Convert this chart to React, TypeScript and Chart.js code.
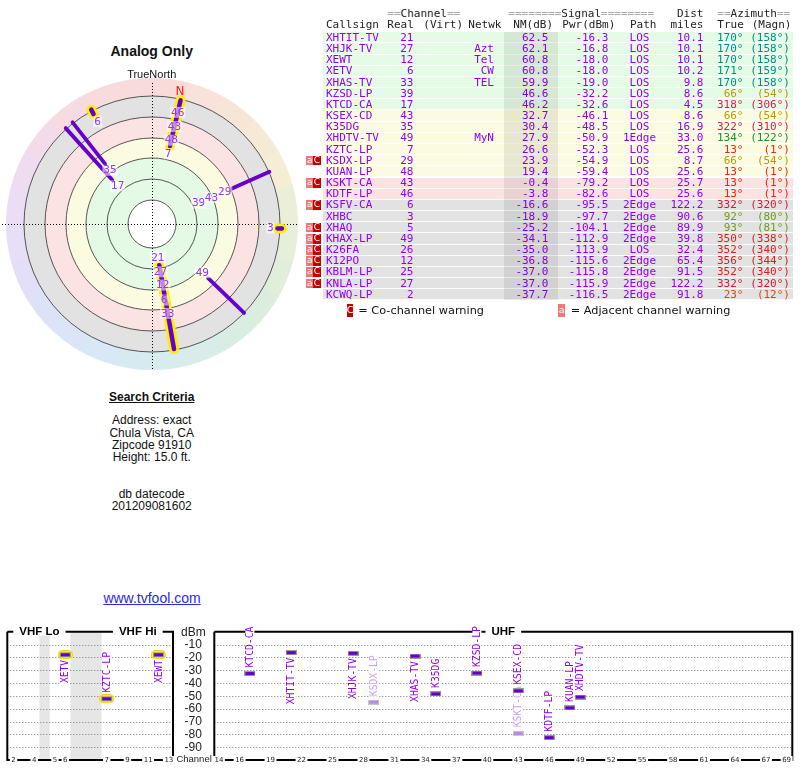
import React, { useEffect, useRef } from "react";
import { Chart, registerables } from "chart.js";

Chart.register(...registerables);

// ---------------- data ----------------
const callsigns = ["XHTIT-TV","XHJK-TV","XEWT","XETV","XHAS-TV","KZSD-LP","KTCD-CA","KSEX-CD","K35DG","XHDTV-TV","KZTC-LP","KSDX-LP","KUAN-LP","KSKT-CA","KDTF-LP","KSFV-CA","XHBC","XHAQ","KHAX-LP","K26FA","K12PO","KBLM-LP","KNLA-LP","KCWQ-LP"];
const channels = [21,27,12,6,33,39,17,43,35,49,7,29,48,43,46,6,3,5,49,26,12,25,27,2];
const networks = ["","Azt","Tel","CW","TEL","","","","","MyN","","","","","","","","","","","","","",""];
const nmDb = [62.5,62.1,60.8,60.8,59.9,46.6,46.2,32.7,30.4,27.9,26.6,23.9,19.4,-0.4,-3.8,-16.6,-18.9,-25.2,-34.1,-35.0,-36.8,-37.0,-37.0,-37.7];
const pwrDbm = [-16.3,-16.8,-18.0,-18.0,-19.0,-32.2,-32.6,-46.1,-48.5,-50.9,-52.3,-54.9,-59.4,-79.2,-82.6,-95.5,-97.7,-104.1,-112.9,-113.9,-115.6,-115.8,-115.9,-116.5];
const paths = ["LOS","LOS","LOS","LOS","LOS","LOS","LOS","LOS","LOS","1Edge","LOS","LOS","LOS","LOS","LOS","2Edge","2Edge","2Edge","2Edge","LOS","2Edge","2Edge","2Edge","2Edge"];
const distMiles = [10.1,10.1,10.1,10.2,9.8,8.6,4.5,8.6,16.9,33.0,25.6,8.7,25.6,25.7,25.6,122.2,90.6,89.9,39.8,32.4,65.4,91.5,122.2,91.8];
const azTrue = [170,170,170,171,170,66,318,66,322,134,13,66,13,13,13,332,92,93,350,352,356,352,332,23];
const azMagn = [158,158,158,159,158,54,306,54,310,122,1,54,1,1,1,320,80,81,338,340,344,340,320,12];
const coChannel = [false,false,false,false,false,false,false,false,false,false,false,true,false,true,false,true,false,true,true,true,true,true,true,false];

// polar plot: radial position of each plotted station (first 17 rows)
const polarR = [41.8,56.6,70,85,98.8,59,59.3,73,76.2,78,80,87.5,94,108,122.6,123.7,126.4];
// analog "tails" on the polar plot
const tailAz = [13,170,332,92,318,322,66,134];
const tailFrom = [80,41.8,124.5,125.5,59.3,76.2,87.5,78];
const tailTo = [127,127,129.5,130,129,129,128.5,128];
const tailVhf = [true,true,true,true,false,false,false,false];
const magDeclination = 12;

// spectrum ticks
const vhfTicks = [2,4,5,6,7,9,11,13];
const uhfTicks = [14,16,19,22,25,28,31,34,37,40,43,46,49,52,55,58,61,64,67,69];
const dbmTicks = [-10,-20,-30,-40,-50,-60,-70,-80,-90];

// ---------------- styling helpers ----------------
const PURPLE_TXT = "#9100ee";
const BAR = "#6600cc";
const MONO = '"DejaVu Sans Mono", monospace';
const SANS = '"Liberation Sans", Arial, sans-serif';
const DJ = '"DejaVu Sans", sans-serif';

const AZ_STOPS: [number, number[]][] = [
  [0,[210,30,30]],[13,[228,40,15]],[23,[215,75,20]],[66,[190,150,0]],[92,[110,160,20]],
  [134,[30,140,50]],[170,[0,140,140]],[205,[20,110,200]],[240,[60,60,210]],[280,[140,40,200]],
  [318,[205,30,90]],[332,[200,30,50]],[350,[210,35,35]],[360,[210,30,30]],
];
function azRgb(az: number): number[] {
  const a = ((az % 360) + 360) % 360;
  for (let i = 0; i < AZ_STOPS.length - 1; i++) {
    const [a0, c0] = AZ_STOPS[i];
    const [a1, c1] = AZ_STOPS[i + 1];
    if (a >= a0 && a <= a1) {
      const t = (a - a0) / (a1 - a0);
      return c0.map((v, k) => Math.round(v + (c1[k] - v) * t));
    }
  }
  return AZ_STOPS[0][1];
}
function azColor(az: number) { const c = azRgb(az); return `rgb(${c[0]},${c[1]},${c[2]})`; }
function azPastel(az: number) {
  const c = azRgb(az).map((v) => Math.round(v + (255 - v) * 0.84));
  return `rgb(${c[0]},${c[1]},${c[2]})`;
}
function zoneColor(nm: number) {
  if (nm > 40) return "#e6fbe6";
  if (nm > 10) return "#fbfbe2";
  if (nm > -10) return "#fbe3e3";
  return "#e2e2e2";
}
function toXY(az: number, r: number) {
  const a = (az * Math.PI) / 180;
  return { x: r * Math.sin(a), y: r * Math.cos(a) };
}
function vhfPos(ch: number) { return ch <= 4 ? ch - 2 : ch <= 6 ? ch - 1 : ch + 2; }

// ---------------- polar chart ----------------
const RING_R = [24, 45, 66, 86, 107, 128];
const polarPlugin = {
  id: "polarBg",
  beforeDatasetsDraw(chart: any) {
    const { ctx, scales } = chart;
    const cx = scales.x.getPixelForValue(0), cy = scales.y.getPixelForValue(0);
    const k = scales.x.getPixelForValue(1) - cx;
    const rad = Math.PI / 180;
    ctx.save();
    for (let a = 0; a < 360; a += 15) {
      ctx.beginPath();
      ctx.moveTo(cx, cy);
      ctx.arc(cx, cy, 146 * k, (a - 90 - 0.4) * rad, (a + 15 - 90 + 0.4) * rad);
      ctx.closePath();
      ctx.fillStyle = azPastel(a + 7.5);
      ctx.fill();
    }
    const zones: [number, string][] = [[128, "#e2e2e2"], [107, "#fbe3e3"], [86, "#fbfbe1"], [66, "#e4fae4"], [24, "#ffffff"]];
    zones.forEach(([r, c]) => {
      ctx.beginPath(); ctx.arc(cx, cy, r * k, 0, Math.PI * 2); ctx.fillStyle = c; ctx.fill();
    });
    ctx.strokeStyle = "#444"; ctx.lineWidth = 0.9;
    RING_R.forEach((r) => { ctx.beginPath(); ctx.arc(cx, cy, r * k, 0, Math.PI * 2); ctx.stroke(); });
    ctx.strokeStyle = "#000"; ctx.lineWidth = 1; ctx.setLineDash([1, 2]);
    ctx.beginPath(); ctx.moveTo(cx - 150 * k, cy + 0.5); ctx.lineTo(cx + 146 * k, cy + 0.5); ctx.stroke();
    ctx.beginPath(); ctx.moveTo(cx + 0.5, cy - 141 * k); ctx.lineTo(cx + 0.5, cy + 145 * k); ctx.stroke();
    ctx.restore();
  },
  afterDatasetsDraw(chart: any) {
    const { ctx, scales } = chart;
    ctx.save();
    ctx.font = `10.5px ${DJ}`;
    ctx.textAlign = "center"; ctx.textBaseline = "middle";
    polarR.forEach((r, i) => {
      const p = toXY(azTrue[i], r - 8);
      const px = scales.x.getPixelForValue(p.x), py = scales.y.getPixelForValue(p.y);
      const t = String(channels[i]);
      const w = ctx.measureText(t).width + 2;
      ctx.fillStyle = "rgba(255,255,255,0.55)";
      ctx.fillRect(px - w / 2, py - 5.5, w, 11);
      ctx.fillStyle = "#9933ee";
      ctx.fillText(t, px, py + 0.5);
    });
    const n = toXY(magDeclination, 135);
    ctx.font = `12px ${DJ}`;
    ctx.fillStyle = "#ff2020";
    ctx.fillText("N", scales.x.getPixelForValue(n.x), scales.y.getPixelForValue(n.y));
    ctx.restore();
  },
};

function PolarChart() {
  const ref = useRef<HTMLCanvasElement>(null);
  useEffect(() => {
    const datasets: any[] = [];
    tailAz.forEach((az, i) => {
      const d = [toXY(az, tailFrom[i]), toXY(az, tailTo[i])];
      datasets.push({ type: "line", data: d, showLine: true, borderColor: BAR, borderWidth: tailVhf[i] ? 4.5 : 3.8, borderCapStyle: "round", pointRadius: 0, order: 1 });
      if (tailVhf[i]) datasets.push({ type: "line", data: d, showLine: true, borderColor: "#ffee00", borderWidth: 10, borderCapStyle: "round", pointRadius: 0, order: 2 });
    });
    const chart = new Chart(ref.current as HTMLCanvasElement, {
      type: "scatter",
      data: { datasets },
      options: {
        animation: false, responsive: false, events: [],
        layout: { padding: 0 },
        plugins: { legend: { display: false }, tooltip: { enabled: false } },
        scales: {
          x: { type: "linear", min: -154, max: 154, display: false },
          y: { type: "linear", min: -154, max: 154, display: false },
        },
      },
      plugins: [polarPlugin],
    } as any);
    return () => chart.destroy();
  }, []);
  return <canvas ref={ref} width={308} height={308} style={{ position: "absolute", left: -2, top: 70, width: 308, height: 308 }} />;
}

// ---------------- spectrum charts ----------------
function makeMark(kind: "normal" | "faded" | "vhf") {
  const c = document.createElement("canvas");
  if (kind === "vhf") {
    c.width = 15; c.height = 9;
    const g = c.getContext("2d") as CanvasRenderingContext2D;
    g.fillStyle = "#f2d200";
    g.beginPath(); (g as any).roundRect(0, 0, 15, 9, 4.5); g.fill();
    g.fillStyle = "#ffff00";
    g.beginPath(); (g as any).roundRect(1, 1, 13, 7, 3.5); g.fill();
    g.fillStyle = "#9a9a9a"; g.fillRect(2, 2, 11, 5);
    g.fillStyle = BAR; g.fillRect(3, 3, 9, 3);
  } else {
    c.width = 11; c.height = 5;
    const g = c.getContext("2d") as CanvasRenderingContext2D;
    g.fillStyle = kind === "faded" ? "#c8c8c8" : "#9a9a9a"; g.fillRect(0, 0, 11, 5);
    g.fillStyle = kind === "faded" ? "#b68ae6" : BAR; g.fillRect(1, 1, 9, 3);
  }
  return c;
}

function makePanelPlugin(kind: "vhf" | "uhf", idx: number[]) {
  return {
    id: "panel_" + kind,
    beforeDatasetsDraw(chart: any) {
      const { ctx, chartArea: a, scales } = chart;
      const X = (v: number) => scales.x.getPixelForValue(v);
      const Y = (v: number) => scales.y.getPixelForValue(v);
      ctx.save();
      if (kind === "vhf") {
        ctx.fillStyle = "#e6e6e6";
        [[2.5, 3.5], [5.5, 8.5]].forEach(([p0, p1]) => ctx.fillRect(X(p0), a.top, X(p1) - X(p0), a.bottom - a.top));
      }
      // dotted grid
      ctx.strokeStyle = "#777"; ctx.lineWidth = 1; ctx.setLineDash([1, 2]);
      dbmTicks.forEach((v) => {
        const yy = Math.round(Y(v)) + 0.5;
        ctx.beginPath(); ctx.moveTo(a.left, yy); ctx.lineTo(a.right, yy); ctx.stroke();
      });
      ctx.setLineDash([]);
      // frame
      ctx.strokeStyle = "#000"; ctx.lineWidth = 2;
      ctx.beginPath();
      ctx.moveTo(a.left, a.top); ctx.lineTo(a.left, a.bottom); ctx.lineTo(a.right, a.bottom); ctx.lineTo(a.right, a.top); ctx.lineTo(a.left, a.top);
      ctx.stroke();
      // titles
      ctx.font = `bold 11.5px ${SANS}`; ctx.textAlign = "center"; ctx.textBaseline = "middle";
      const titles: [string, number][] = kind === "vhf" ? [["VHF Lo", X(2.5)], ["VHF Hi", X(12)]] : [["UHF", (a.left + a.right) / 2]];
      titles.forEach(([t, tx]) => {
        const w = ctx.measureText(t).width;
        ctx.fillStyle = "#fff"; ctx.fillRect(tx - w / 2 - 6, a.top - 4, w + 12, 8);
        ctx.fillStyle = "#000"; ctx.fillText(t, tx, a.top);
      });
      // channel ticks on bottom frame
      ctx.font = `7px ${DJ}`;
      const ticks = kind === "vhf" ? vhfTicks : uhfTicks;
      ticks.forEach((ch) => {
        const tx = X(kind === "vhf" ? vhfPos(ch) : ch);
        const t = String(ch);
        const w = ctx.measureText(t).width;
        ctx.fillStyle = "#fff"; ctx.fillRect(tx - w / 2 - 1.5, a.bottom - 4, w + 3, 8);
        ctx.fillStyle = "#222"; ctx.fillText(t, tx, a.bottom);
      });
      if (kind === "uhf") {
        ctx.font = `12px ${SANS}`; ctx.fillStyle = "#222";
        ctx.textAlign = "right";
        dbmTicks.forEach((v) => ctx.fillText(String(v), a.left - 12.5, Y(v) + 0.5));
        ctx.textAlign = "center";
        ctx.fillText("dBm", a.left - 21, a.top + 1);
        ctx.font = `9.5px ${SANS}`; ctx.textAlign = "right";
        ctx.fillText("Channel", a.left - 2.5, a.bottom - 0.5);
      }
      // station labels (rotated)
      ctx.font = `9.7px ${MONO}`; ctx.textBaseline = "middle";
      idx.forEach((i) => {
        const px = X(kind === "vhf" ? vhfPos(channels[i]) : channels[i]);
        const py = Y(pwrDbm[i]);
        const t = callsigns[i];
        const w = ctx.measureText(t).width;
        const above = pwrDbm[i] < -30;
        ctx.save();
        ctx.translate(px, py);
        ctx.rotate(-Math.PI / 2);
        ctx.fillStyle = "#fff";
        if (above) { ctx.fillRect(5.5, -4.5, w + 1, 9); } else { ctx.fillRect(-5 - w - 1, -4.5, w + 1, 9); }
        ctx.fillStyle = coChannel[i] ? "#c9a3f2" : PURPLE_TXT;
        ctx.textAlign = above ? "left" : "right";
        ctx.fillText(t, above ? 6 : -5, 0.5);
        ctx.restore();
      });
      ctx.restore();
    },
  };
}

function SpectrumChart({ kind }: { kind: "vhf" | "uhf" }) {
  const ref = useRef<HTMLCanvasElement>(null);
  const geo = kind === "vhf"
    ? { left: 0, width: 180, pad: { left: 7.3, right: 6.7, top: 31.7, bottom: 8 }, xmin: -0.6, xmax: 15.4 }
    : { left: 176, width: 624, pad: { left: 38.3, right: 7.7, top: 31.7, bottom: 8 }, xmin: 13.55, xmax: 69.55 };
  useEffect(() => {
    const shown = callsigns.map((_, i) => i).filter((i) => nmDb[i] > -10);
    const idx = shown.filter((i) => (kind === "vhf" ? channels[i] <= 13 : channels[i] >= 14));
    const pos = (i: number) => ({ x: kind === "vhf" ? vhfPos(channels[i]) : channels[i], y: pwrDbm[i] });
    const datasets: any[] = [];
    if (kind === "vhf") {
      datasets.push({ data: idx.map(pos), pointStyle: makeMark("vhf"), pointRadius: 6, clip: false });
    } else {
      datasets.push({ data: idx.filter((i) => !coChannel[i]).map(pos), pointStyle: makeMark("normal"), pointRadius: 5, clip: false });
      datasets.push({ data: idx.filter((i) => coChannel[i]).map(pos), pointStyle: makeMark("faded"), pointRadius: 5, clip: false });
    }
    const chart = new Chart(ref.current as HTMLCanvasElement, {
      type: "scatter",
      data: { datasets },
      options: {
        animation: false, responsive: false, events: [],
        layout: { padding: geo.pad },
        plugins: { legend: { display: false }, tooltip: { enabled: false } },
        scales: {
          x: { type: "linear", min: geo.xmin, max: geo.xmax, display: false },
          y: { type: "linear", min: -100, max: 0, display: false },
        },
      },
      plugins: [makePanelPlugin(kind, idx)],
    } as any);
    return () => chart.destroy();
  }, []);
  return <canvas ref={ref} width={geo.width} height={168} style={{ position: "absolute", left: geo.left, top: 600, width: geo.width, height: 168 }} />;
}

// ---------------- text helpers ----------------
function T({ x, y, children, align = "left", style }: any) {
  const w = 400;
  const left = align === "left" ? x : align === "right" ? x - w : x - w / 2;
  return (
    <div style={{ position: "absolute", left, top: y - 7, width: w, height: 14, lineHeight: "14px", textAlign: align, whiteSpace: "pre", ...style }}>
      {children}
    </div>
  );
}

const ROW_TOP = 32.3;
const ROW_H = 11.17;

function StationTable() {
  const mono = { fontFamily: MONO, fontSize: 11 };
  const hdr = { ...mono, color: "#222" };
  const eq = { color: "#aaa" };
  const cell = { ...mono, color: PURPLE_TXT };
  return (
    <>
      <T x={387.3} y={14} style={hdr}><span style={eq}>==</span>Channel<span style={eq}>==</span></T>
      <T x={508.3} y={14} style={hdr}><span style={eq}>========</span>Signal<span style={eq}>========</span></T>
      <T x={703.5} y={14} align="right" style={hdr}>Dist</T>
      <T x={717.3} y={14} style={hdr}><span style={eq}>==</span>Azimuth<span style={eq}>==</span></T>
      <T x={326} y={25} style={hdr}>Callsign</T>
      <T x={387.3} y={25} style={hdr}>Real</T>
      <T x={423.3} y={25} style={hdr}>(Virt)</T>
      <T x={468.3} y={25} style={hdr}>Netwk</T>
      <T x={513.3} y={25} style={hdr}>NM(dB)</T>
      <T x={562.3} y={25} style={hdr}>Pwr(dBm)</T>
      <T x={630} y={25} style={hdr}>Path</T>
      <T x={703.5} y={25} align="right" style={hdr}>miles</T>
      <T x={717.3} y={25} style={hdr}>True</T>
      <T x={751.7} y={25} style={hdr}>(Magn)</T>
      {callsigns.map((cs, i) => {
        const top = ROW_TOP + i * ROW_H;
        const cy = top + ROW_H / 2;
        const az = azColor(azTrue[i]);
        return (
          <React.Fragment key={cs + i}>
            <div style={{ position: "absolute", left: 323.3, top, width: 469.4, height: ROW_H, background: zoneColor(nmDb[i]), borderBottom: "1px solid rgba(255,255,255,0.85)", boxSizing: "border-box" }} />
            {coChannel[i] && (
              <>
                <div style={{ position: "absolute", left: 306, top: top + 0.5, width: 7.3, height: ROW_H - 1.5, background: "#f07878", color: "#fff", fontFamily: DJ, fontSize: 9, lineHeight: `${ROW_H - 1.5}px`, textAlign: "center" }}>a</div>
                <div style={{ position: "absolute", left: 313.3, top: top + 0.5, width: 7.4, height: ROW_H - 1.5, background: "#c40000", color: "#fff", fontFamily: DJ, fontSize: 9, lineHeight: `${ROW_H - 1.5}px`, textAlign: "center" }}>C</div>
              </>
            )}
            <T x={326} y={cy} style={cell}>{cs}</T>
            <T x={413.5} y={cy} align="right" style={cell}>{String(channels[i])}</T>
            <T x={494} y={cy} align="right" style={cell}>{networks[i]}</T>
            <T x={548.5} y={cy} align="right" style={cell}>{nmDb[i].toFixed(1)}</T>
            <T x={608.5} y={cy} align="right" style={cell}>{pwrDbm[i].toFixed(1)}</T>
            <T x={639.5} y={cy} align="center" style={cell}>{paths[i]}</T>
            <T x={703.5} y={cy} align="right" style={cell}>{distMiles[i].toFixed(1)}</T>
            <T x={743.5} y={cy} align="right" style={{ ...mono, color: az }}>{`${azTrue[i]}°`}</T>
            <T x={790} y={cy} align="right" style={{ ...mono, color: az }}>{`(${azMagn[i]}°)`}</T>
          </React.Fragment>
        );
      })}
      <div style={{ position: "absolute", left: 504, top: ROW_TOP, width: 54.3, height: ROW_H * callsigns.length, background: "rgba(0,0,0,0.075)" }} />
      {/* legend */}
      <div style={{ position: "absolute", left: 346.7, top: 304, width: 6.8, height: 12.5, background: "#c40000", color: "#fff", fontFamily: DJ, fontSize: 9.5, lineHeight: "12.5px", textAlign: "center" }}>C</div>
      <T x={358.3} y={310.5} style={{ fontFamily: DJ, fontSize: 11.3, color: "#111" }}>= Co-channel warning</T>
      <div style={{ position: "absolute", left: 558.3, top: 304, width: 6.8, height: 12.5, background: "#f07878", color: "#fff", fontFamily: DJ, fontSize: 9.5, lineHeight: "12.5px", textAlign: "center" }}>a</div>
      <T x={570.7} y={310.5} style={{ fontFamily: DJ, fontSize: 11.3, color: "#111" }}>= Adjacent channel warning</T>
    </>
  );
}

export default function App() {
  const txt = { fontFamily: SANS, fontSize: 12, color: "#111" };
  return (
    <div style={{ position: "absolute", left: 0, top: 0, width: 800, height: 768, overflow: "hidden", background: "#fff" }}>
      <PolarChart />
      <T x={151.7} y={51} align="center" style={{ fontFamily: SANS, fontSize: 14, fontWeight: "bold", color: "#111" }}>Analog Only</T>
      <T x={151.7} y={74.3} align="center" style={{ fontFamily: SANS, fontSize: 11, color: "#111" }}>TrueNorth</T>
      <StationTable />
      <T x={151.7} y={397.3} align="center" style={{ ...txt, fontWeight: "bold", textDecoration: "underline" }}>Search Criteria</T>
      <T x={151.7} y={420} align="center" style={txt}>Address: exact</T>
      <T x={151.7} y={432.5} align="center" style={txt}>Chula Vista, CA</T>
      <T x={151.7} y={444.5} align="center" style={txt}>Zipcode 91910</T>
      <T x={151.7} y={456.5} align="center" style={txt}>Height: 15.0 ft.</T>
      <T x={151.7} y={494} align="center" style={txt}>db datecode</T>
      <T x={151.7} y={506} align="center" style={txt}>201209081602</T>
      <T x={152} y={598.3} align="center" style={{ fontFamily: SANS, fontSize: 14, color: "#2a2ae0", textDecoration: "underline" }}>www.tvfool.com</T>
      <SpectrumChart kind="vhf" />
      <SpectrumChart kind="uhf" />
    </div>
  );
}
